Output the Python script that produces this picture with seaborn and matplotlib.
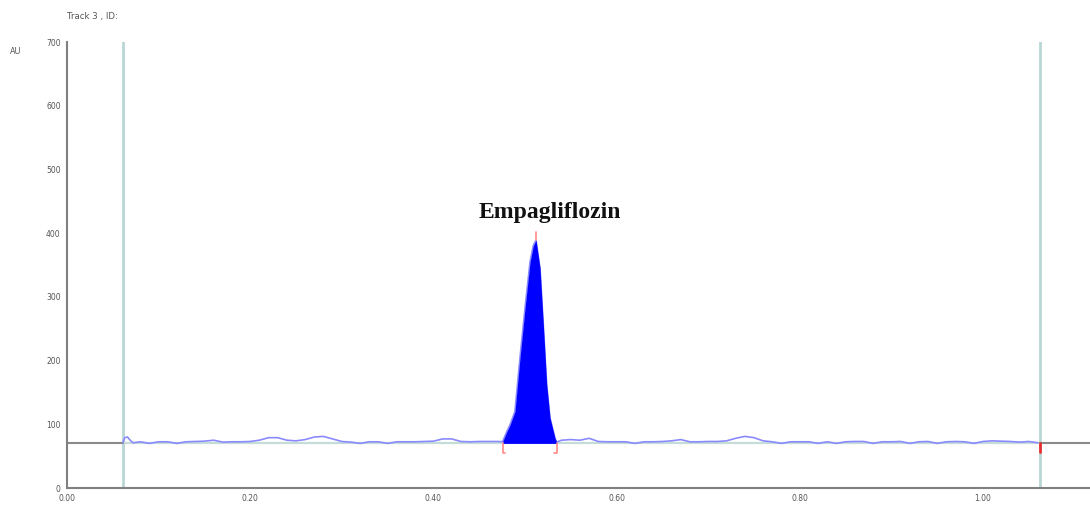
import numpy as np
import pandas as pd
import matplotlib
matplotlib.use("Agg")
import matplotlib.pyplot as plt
import seaborn as sns

# ---------------- data ----------------
baseline_au = 70
track_start = 0.061
track_end = 1.062

rf_noise = [0.061, 0.063, 0.066, 0.069, 0.072, 0.08, 0.09, 0.10, 0.11, 0.12, 0.13, 0.14, 0.15,
            0.16, 0.17, 0.18, 0.19, 0.20, 0.21, 0.22, 0.23, 0.24, 0.25, 0.26, 0.27,
            0.28, 0.29, 0.30, 0.31, 0.32, 0.33, 0.34, 0.35, 0.36, 0.37, 0.38, 0.39,
            0.40, 0.41, 0.42, 0.43, 0.44, 0.45, 0.46, 0.47]
au_noise = [71, 79, 80, 75, 71, 72.5, 70, 72.5, 72.5, 70, 72.5, 73, 73.5,
            75, 72, 72.5, 72.5, 73, 75, 79, 79, 75, 74, 76, 80,
            81, 77, 73, 72, 70, 72.5, 72.5, 70, 72.5, 72.5, 72.5, 73,
            73.5, 77, 77, 73, 72.5, 73, 73, 73]

rf_peak = [0.4755, 0.480, 0.4836, 0.489, 0.4945, 0.500, 0.5055, 0.509, 0.512,
           0.5164, 0.520, 0.5237, 0.5273, 0.5328, 0.5346]
au_peak = [72.7, 88, 99, 120, 204, 282, 355, 380, 389,
           345, 256, 162, 110, 78, 72]

rf_noise2 = [0.54, 0.55, 0.56, 0.57, 0.58, 0.59, 0.60, 0.61, 0.62, 0.63, 0.64, 0.65,
             0.66, 0.67, 0.68, 0.69, 0.70, 0.71, 0.72, 0.73, 0.74, 0.75, 0.76, 0.77,
             0.78, 0.79, 0.80, 0.81, 0.82, 0.83, 0.84, 0.85, 0.86, 0.87, 0.88, 0.89,
             0.90, 0.91, 0.92, 0.93, 0.94, 0.95, 0.96, 0.97, 0.98, 0.99, 1.00, 1.01,
             1.02, 1.03, 1.04, 1.05, 1.06]
au_noise2 = [75, 76, 75, 78, 73, 72.5, 72.5, 72.5, 70, 72.5, 72.5, 73,
             74, 76, 72.5, 72.5, 73, 73, 74, 78, 81, 79, 74, 72.5,
             70, 72.5, 72.5, 72.5, 70, 72.5, 70, 72.5, 73, 73, 70, 72.5,
             72.5, 73, 70, 72.5, 73, 70, 72.5, 73, 72.5, 70, 73, 74,
             73.5, 73, 72, 73, 71]

peak_label = "Empagliflozin"
x_ticks = [0.00, 0.20, 0.40, 0.60, 0.80, 1.00]
y_ticks = [0, 100, 200, 300, 400, 500, 600, 700]

trace = pd.DataFrame({
    "Rf": rf_noise + rf_peak + rf_noise2,
    "AU": au_noise + au_peak + au_noise2,
})

# ---------------- figure ----------------
sns.set_style("white")
plt.rcParams["font.family"] = ["DejaVu Sans"]

fig = plt.figure(figsize=(10.9, 5.08), dpi=100)
ax = fig.add_axes([67 / 1090, 1 - 488 / 508, 1 - 67 / 1090, (488 - 42) / 508])

# trace
sns.lineplot(data=trace, x="Rf", y="AU", ax=ax, color="#8a8aff", lw=1.2,
             sort=False, zorder=3)

# filled peak
pk = pd.DataFrame({"Rf": rf_peak, "AU": au_peak})
ax.fill_between(pk["Rf"], baseline_au, pk["AU"], color="#0000ff", lw=0, zorder=4)

# baseline lines
ax.plot([track_start, track_end], [baseline_au, baseline_au], color="#c6dcd8", lw=1.6, zorder=2)
ax.plot([0, track_start], [baseline_au, baseline_au], color="#8a8a8a", lw=1.5, zorder=2)
ax.plot([track_end, 1.2], [baseline_au, baseline_au], color="#8a8a8a", lw=1.5, zorder=2)

# track boundary lines
for xv in (track_start, track_end):
    ax.plot([xv, xv], [0, 700], color="#b8d6d4", lw=2.0, zorder=1)

# red peak markers
s0, s1 = rf_peak[0], rf_peak[-1]
apex = rf_peak[int(np.argmax(au_peak))]
ax.plot([apex, apex], [max(au_peak), 402], color="#ff8a8a", lw=1.2, zorder=5)
ax.plot([s0 + 0.003, s0, s0], [55, 55, 70], color="#ff8a8a", lw=1.2, zorder=5)
ax.plot([s1 - 0.003, s1, s1], [55, 55, 70], color="#ff8a8a", lw=1.2, zorder=5)
ax.plot([track_end, track_end], [baseline_au, 56], color="#e83030", lw=2.0, zorder=5)

# peak label
ax.text(0.527, 432, peak_label, ha="center", va="center", fontsize=17,
        fontweight="bold", family=["Liberation Serif", "DejaVu Serif"], color="#111111")

# axes styling
ax.set_xlim(0, (1090 - 67) / 916)
ax.set_ylim(0, 700)
ax.set_xticks(x_ticks)
ax.set_xticklabels([f"{v:.2f}" for v in x_ticks])
ax.set_yticks(y_ticks)
ax.set_yticklabels([str(v) for v in y_ticks])
ax.tick_params(axis="both", labelsize=5.5, labelcolor="#555555", colors="#777777",
               length=3, width=1, direction="out", pad=1.5)
ax.set_xlabel("")
ax.set_ylabel("")
for side in ("top", "right"):
    ax.spines[side].set_visible(False)
for side in ("left", "bottom"):
    ax.spines[side].set_color("#808080")
    ax.spines[side].set_linewidth(1.5)
ax.set_facecolor("white")

fig.text(67 / 1090, 1 - 17 / 508, "Track 3 , ID:", fontsize=6.2, color="#555555",
         ha="left", va="center")
fig.text(10 / 1090, 1 - 52 / 508, "AU", fontsize=5.8, color="#555555",
         ha="left", va="center")

fig.savefig("out.png", dpi=100, facecolor="white")
